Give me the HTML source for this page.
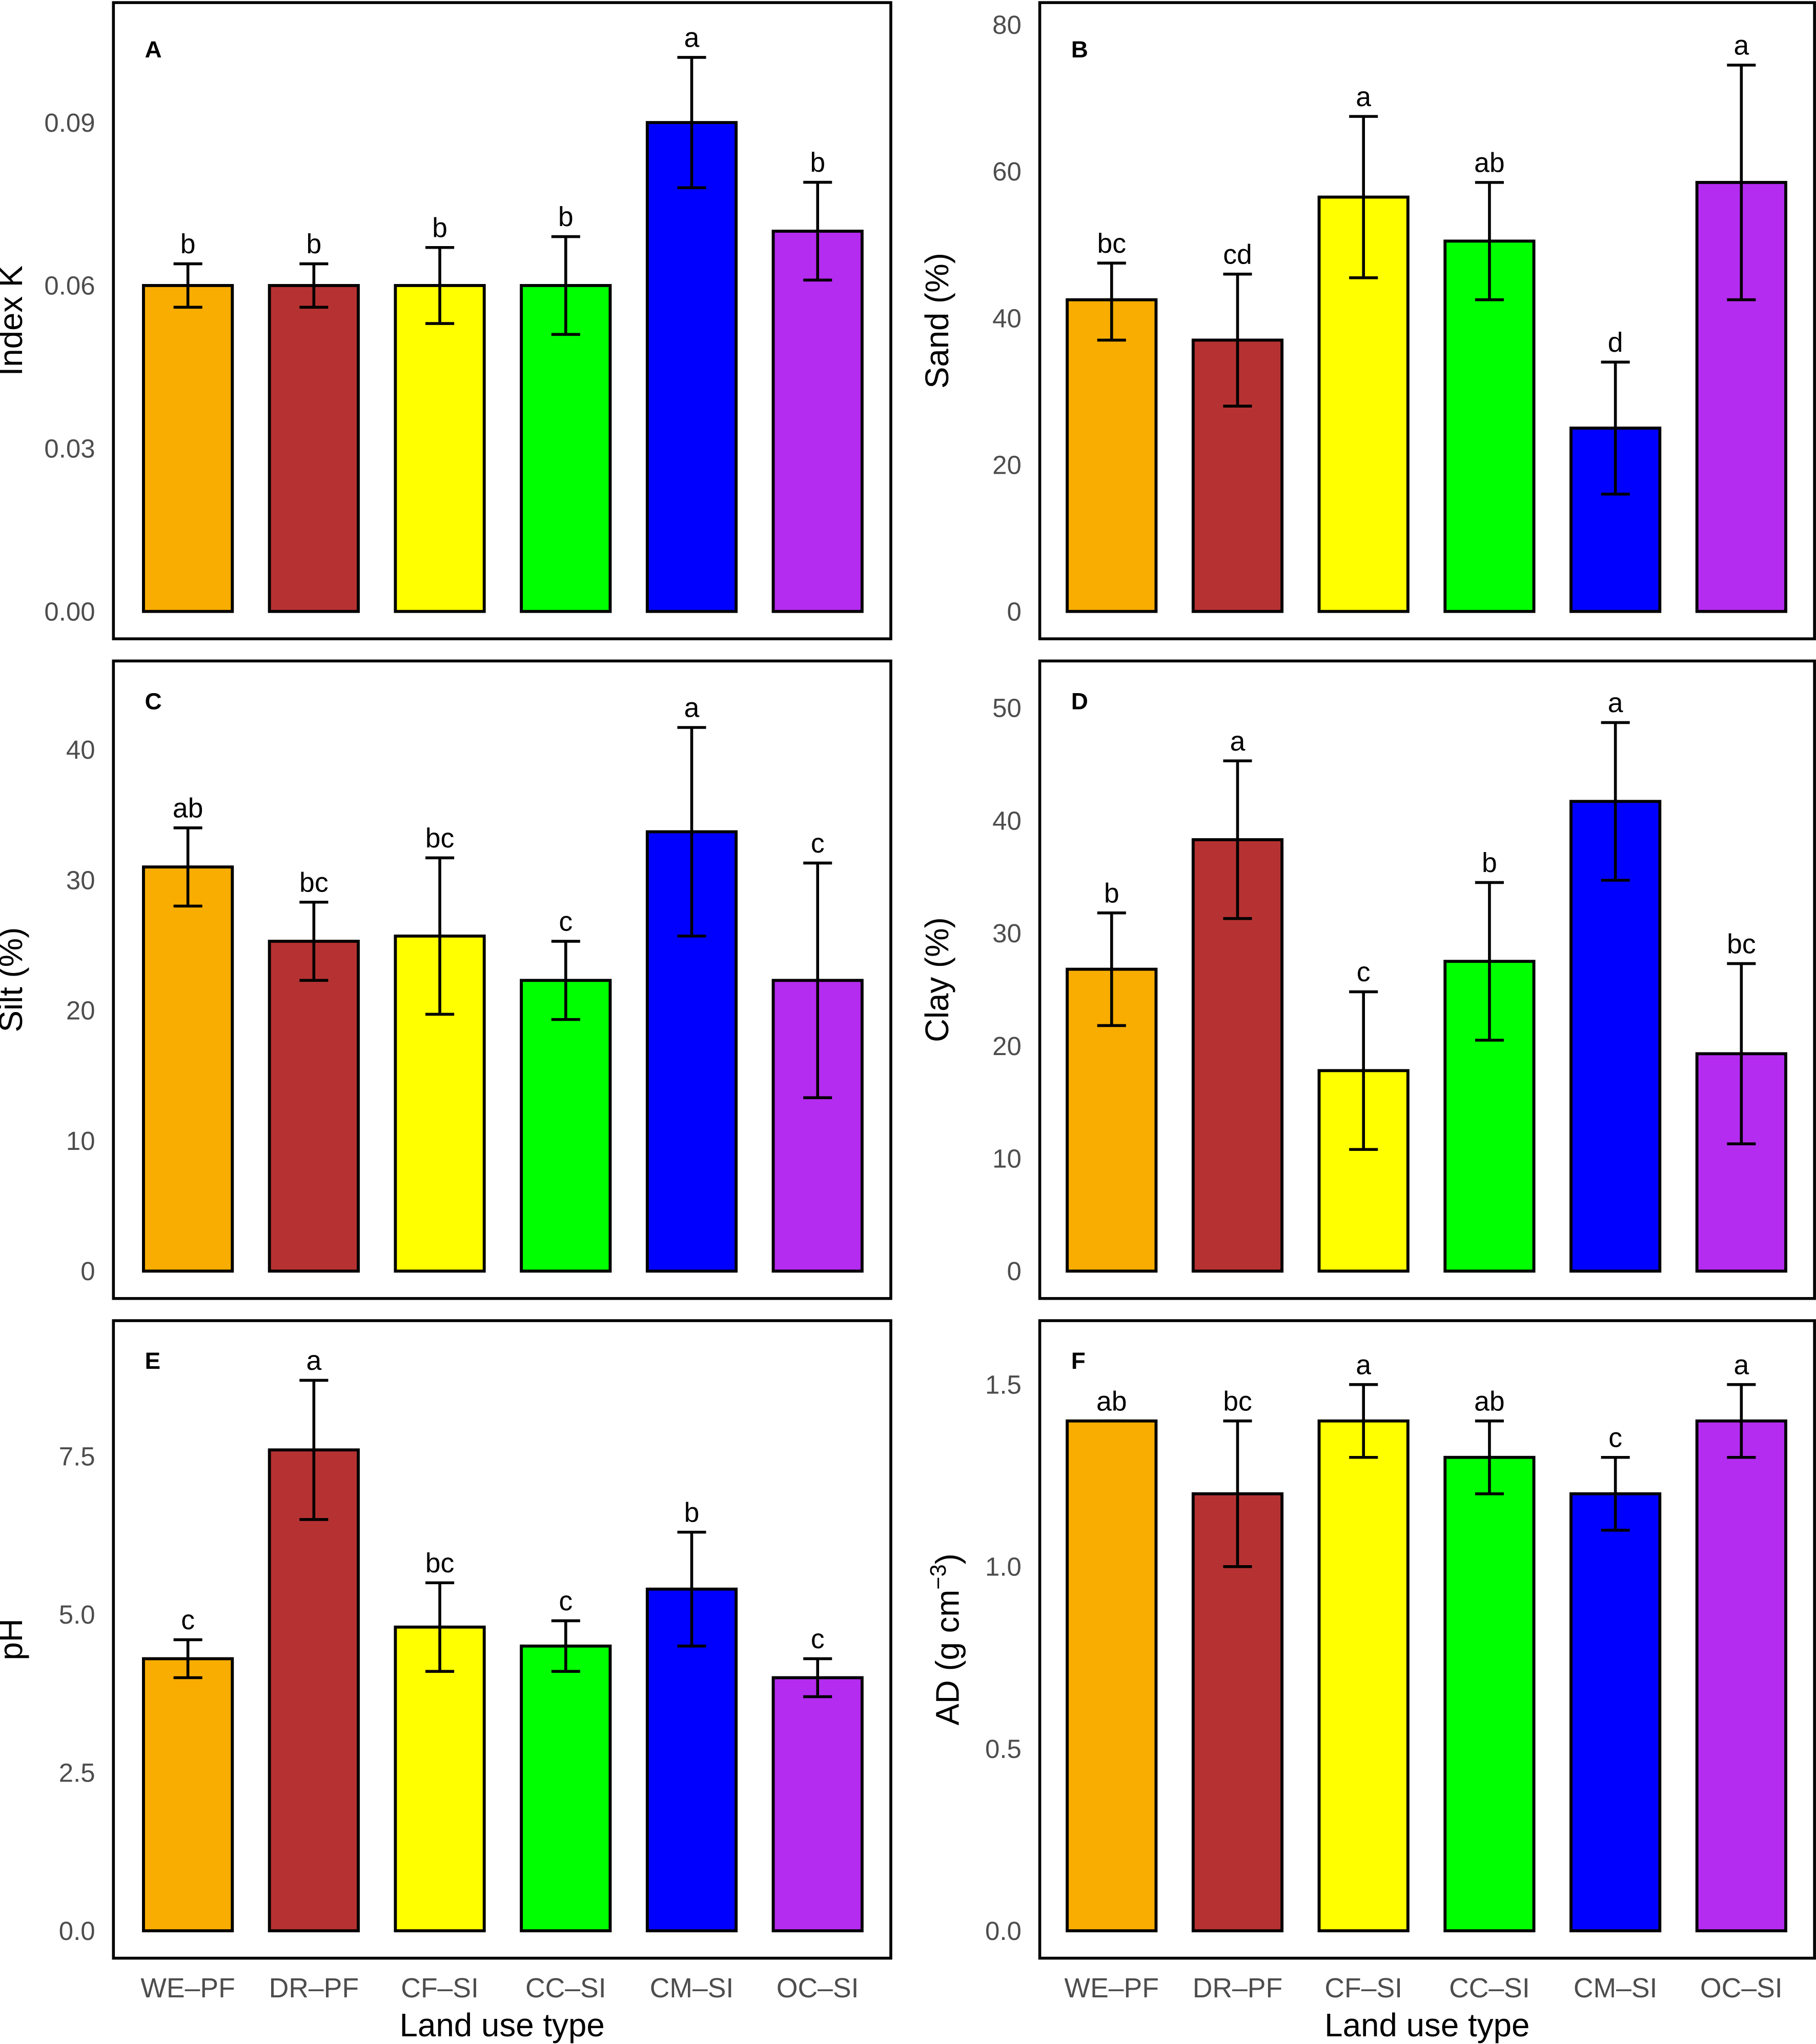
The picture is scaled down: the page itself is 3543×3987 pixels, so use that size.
<!DOCTYPE html>
<html><head><meta charset="utf-8">
<style>
html,body{margin:0;padding:0;background:#fff;}
svg{display:block;}
text{font-family:"Liberation Sans",Arial,sans-serif;}
</style></head>
<body>
<svg id="fig" width="3543" height="3987" viewBox="0 0 3543 3987" xmlns="http://www.w3.org/2000/svg">
<g id="root" transform="matrix(2.549,0,0,2.543,-3,0)"></g>
</svg>
<script>
const categories = ["WE\u2013PF","DR\u2013PF","CF\u2013SI","CC\u2013SI","CM\u2013SI","OC\u2013SI"];
const barColors = ["#f8ad00","#b63232","#ffff00","#00ff00","#0000ff","#b42cf0"];

const indexKMean = [0.06,0.06,0.06,0.06,0.09,0.07];
const indexKHigh = [0.064,0.064,0.067,0.069,0.102,0.079];
const indexKLow  = [0.056,0.056,0.053,0.051,0.078,0.061];
const indexKLetters = ["b","b","b","b","a","b"];
const indexKTicks = ["0.00","0.03","0.06","0.09"];

const sandMean = [42.5,37,56.5,50.5,25,58.5];
const sandHigh = [47.5,46,67.5,58.5,34,74.5];
const sandLow  = [37,28,45.5,42.5,16,42.5];
const sandLetters = ["bc","cd","a","ab","d","a"];
const sandTicks = ["0","20","40","60","80"];

const siltMean = [31,25.3,25.7,22.3,33.7,22.3];
const siltHigh = [34,28.3,31.7,25.3,41.7,31.3];
const siltLow  = [28,22.3,19.7,19.3,25.7,13.3];
const siltLetters = ["ab","bc","bc","c","a","c"];
const siltTicks = ["0","10","20","30","40"];

const clayMean = [26.8,38.3,17.8,27.5,41.7,19.3];
const clayHigh = [31.8,45.3,24.8,34.5,48.7,27.3];
const clayLow  = [21.8,31.3,10.8,20.5,34.7,11.3];
const clayLetters = ["b","a","c","b","a","bc"];
const clayTicks = ["0","10","20","30","40","50"];

const phMean = [4.3,7.6,4.8,4.5,5.4,4.0];
const phHigh = [4.6,8.7,5.5,4.9,6.3,4.3];
const phLow  = [4.0,6.5,4.1,4.1,4.5,3.7];
const phLetters = ["c","a","bc","c","b","c"];
const phTicks = ["0.0","2.5","5.0","7.5"];

const adMean = [1.4,1.2,1.4,1.3,1.2,1.4];
const adHigh = [1.4,1.4,1.5,1.4,1.3,1.5];
const adLow  = [1.4,1.0,1.3,1.2,1.1,1.3];
const adLetters = ["ab","bc","a","ab","c","a"];
const adTicks = ["0.0","0.5","1.0","1.5"];

const NS="http://www.w3.org/2000/svg";
const root=document.getElementById('root');
function mk(tag,attrs,parent){const e=document.createElementNS(NS,tag);for(const k in attrs)e.setAttribute(k,attrs[k]);(parent||root).appendChild(e);return e;}

const panels=[
 {id:"A",key:"index-k",title:"Index K",mean:indexKMean,hi:indexKHigh,lo:indexKLow,let:indexKLetters,ticks:indexKTicks,box:[88,2,683,490],y0:469,ymax:0.09,ypx:94,xlab:false,x0:145},
 {id:"B",key:"sand",title:"Sand (%)",mean:sandMean,hi:sandHigh,lo:sandLow,let:sandLetters,ticks:sandTicks,box:[797,2,1390,490],y0:469,ymax:80,ypx:19,xlab:false,x0:852},
 {id:"C",key:"silt",title:"Silt (%)",mean:siltMean,hi:siltHigh,lo:siltLow,let:siltLetters,ticks:siltTicks,box:[88,507,683,996],y0:975,ymax:40,ypx:575,xlab:false,x0:145},
 {id:"D",key:"clay",title:"Clay (%)",mean:clayMean,hi:clayHigh,lo:clayLow,let:clayLetters,ticks:clayTicks,box:[797,507,1390,996],y0:975,ymax:50,ypx:543,xlab:false,x0:852},
 {id:"E",key:"ph",title:"pH",mean:phMean,hi:phHigh,lo:phLow,let:phLetters,ticks:phTicks,box:[88,1013,683,1502],y0:1481,ymax:7.5,ypx:1117,xlab:true,x0:145},
 {id:"F",key:"ad",title:"AD",mean:adMean,hi:adHigh,lo:adLow,let:adLetters,ticks:adTicks,box:[797,1013,1390,1502],y0:1481,ymax:1.5,ypx:1062,xlab:true,x0:852}
];

panels.forEach(p=>{
  const g=mk('g',{});
  
  
  const [x1,y1,x2,y2]=p.box;
  const y=v=>p.y0-(v/p.ymax)*(p.y0-p.ypx);
  const x=i=>p.x0+i*96.4;
  const bw=68;
  const fr=mk('rect',{x:x1,y:y1,width:x2-x1,height:y2-y1,fill:'none',stroke:'#000','stroke-width':2.2},g);
  
  
  const pl=mk('text',{x:x1+24,y:(p.id==="A"||p.id==="B")?44:y1+37,'font-size':18,'font-weight':'bold',fill:'#000'},g);
  pl.textContent=p.id;
  
  
  const n=p.ticks.length;
  p.ticks.forEach((t,k)=>{
    const v=p.ymax*k/(n-1);
    const tt=mk('text',{x:x1-14,y:y(v)+7,'font-size':20,fill:'#4d4d4d','text-anchor':'end'},g);
    tt.textContent=t;
    
    
  });
  const cy=(y1+y2)/2;
  const yt=mk('text',{transform:`translate(${x1-70},${cy}) rotate(-90)`,'font-size':25,fill:'#000','text-anchor':'middle'},g);
  if(p.id==="F"){
    yt.setAttribute('transform',`translate(${x1-62},${cy}) rotate(-90)`);
    yt.textContent="AD (g cm";
    const s=mk('tspan',{dy:-10,'font-size':17},yt);s.textContent="\u22123";
    const s2=mk('tspan',{dy:10},yt);s2.textContent=")";
  } else yt.textContent=p.title;
  
  
  p.mean.forEach((m,i)=>{
    const b=mk('rect',{x:x(i)-bw/2,y:y(m),width:bw,height:p.y0-y(m),fill:barColors[i],stroke:'#000','stroke-width':2.3},g);
    
    
    const eb=mk('path',{d:`M${x(i)},${y(p.hi[i])}V${y(p.lo[i])}M${x(i)-11},${y(p.hi[i])}H${x(i)+11}M${x(i)-11},${y(p.lo[i])}H${x(i)+11}`,stroke:'#000','stroke-width':2.2,fill:'none'},g);
    
    
    const lt=mk('text',{x:x(i),y:y(p.hi[i])-8,'font-size':21,fill:'#000','text-anchor':'middle'},g);
    lt.textContent=p.let[i];
    
    
    if(p.xlab){
      const xl=mk('text',{x:x(i),y:1532,'font-size':21,fill:'#4d4d4d','text-anchor':'middle'},g);
      xl.textContent=categories[i];
      
      
    }
  });
  if(p.xlab){
    const xt=mk('text',{x:(x1+x2)/2,y:1562,'font-size':25,fill:'#000','text-anchor':'middle'},g);
    xt.textContent="Land use type";
    
    
  }
});
</script>
</body></html>
